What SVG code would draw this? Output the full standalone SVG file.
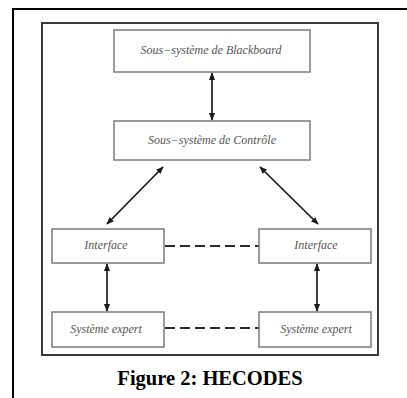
<svg xmlns="http://www.w3.org/2000/svg" width="407" height="398" viewBox="0 0 407 398">
  <style>
    .box { fill: #ffffff; stroke: #7a7a7a; stroke-width: 1.5; }
    .lbl { font-family: "Liberation Serif", "Times New Roman", serif; font-style: italic; font-size: 12px; fill: #555555; text-anchor: middle; }
    .arr { stroke: #1a1a1a; stroke-width: 1.7; fill: none; marker-start: url(#ah); marker-end: url(#ah); }
    .dash { stroke: #2a2a2a; stroke-width: 1.9; stroke-dasharray: 10 5; fill: none; }
    .cap { font-family: "Liberation Serif", "Times New Roman", serif; font-weight: bold; font-size: 20.5px; fill: #000000; text-anchor: middle; }
  </style>
  <defs>
    <marker id="ah" viewBox="0 0 10 10" refX="9" refY="5" markerWidth="4.5" markerHeight="4.5" orient="auto-start-reverse" markerUnits="strokeWidth">
      <path d="M0,1 L10,5 L0,9 Z" fill="#1a1a1a"/>
    </marker>
  </defs>
  <rect width="407" height="398" fill="#ffffff"/>
  <g id="frame">
    <line x1="13" y1="9" x2="407" y2="9" stroke="#000" stroke-width="2"/>
    <line x1="13" y1="8" x2="13" y2="398" stroke="#000" stroke-width="2"/>
    <rect x="42" y="23" width="336" height="332" fill="none" stroke="#3a3a3a" stroke-width="2"/>
  </g>
  <g id="connectors">
    <line class="arr" x1="212" y1="73" x2="212" y2="120"/>
    <line class="arr" x1="163" y1="167" x2="107" y2="224"/>
    <line class="arr" x1="260" y1="167" x2="318" y2="224"/>
    <line class="arr" x1="107" y1="264" x2="107" y2="311"/>
    <line class="arr" x1="317" y1="264" x2="317" y2="311"/>
    <line class="dash" x1="165" y1="246" x2="259" y2="246"/>
    <line class="dash" x1="165" y1="328" x2="259" y2="328"/>
  </g>
  <g id="blackboard">
    <rect class="box" x="114" y="30" width="196" height="42"/>
    <text class="lbl" x="211" y="54">Sous−système de Blackboard</text>
  </g>
  <g id="controle">
    <rect class="box" x="114" y="121" width="196" height="39"/>
    <text class="lbl" x="212" y="144">Sous−système de Contrôle</text>
  </g>
  <g id="interface-left">
    <rect class="box" x="52" y="229" width="112" height="34"/>
    <text class="lbl" x="106" y="249">Interface</text>
  </g>
  <g id="interface-right">
    <rect class="box" x="259" y="229" width="112" height="34"/>
    <text class="lbl" x="316" y="249">Interface</text>
  </g>
  <g id="expert-left">
    <rect class="box" x="52" y="312" width="112" height="35"/>
    <text class="lbl" x="106" y="333">Système expert</text>
  </g>
  <g id="expert-right">
    <rect class="box" x="259" y="312" width="112" height="35"/>
    <text class="lbl" x="316" y="333">Système expert</text>
  </g>
  <g id="caption">
    <text class="cap" x="210" y="385">Figure 2: HECODES</text>
  </g>
</svg>
